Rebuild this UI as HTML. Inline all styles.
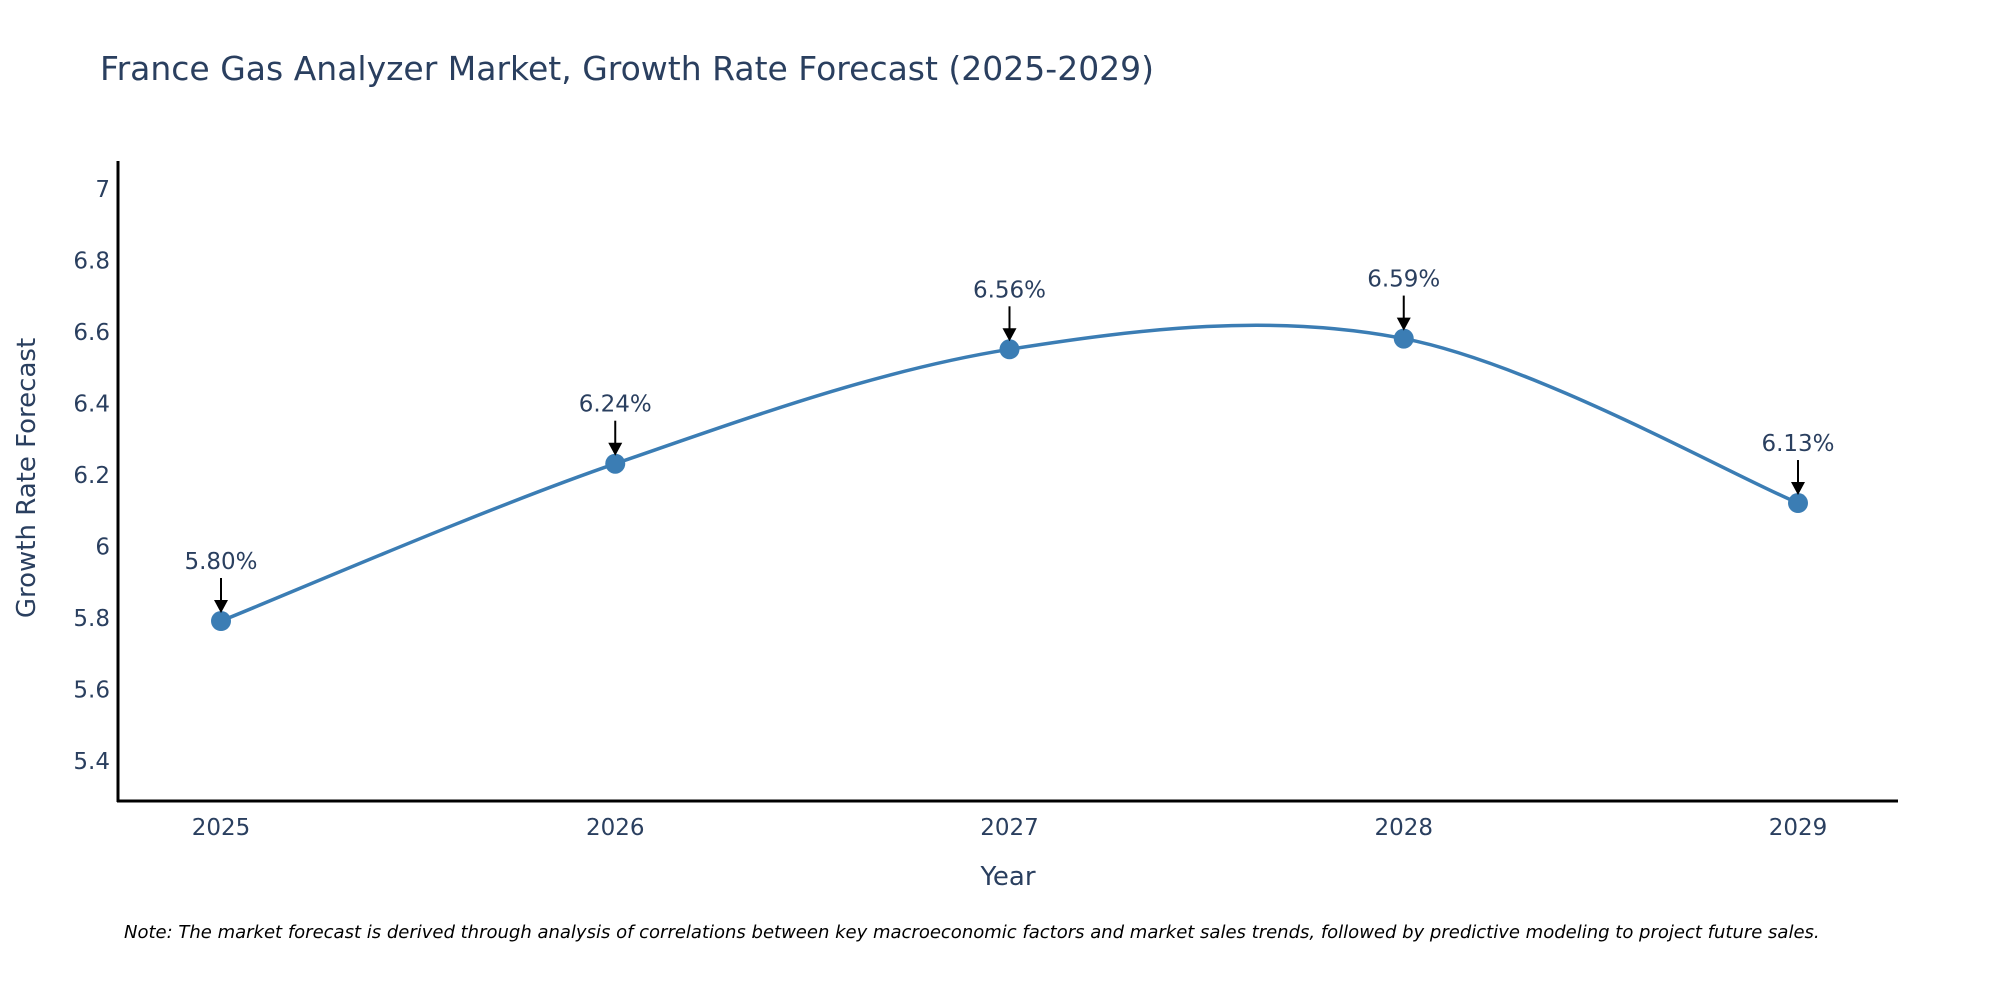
<!DOCTYPE html>
<html><head><meta charset="utf-8"><style>
body{margin:0;background:#fff;}
svg{display:block;font-family:"DejaVu Sans","Liberation Sans",sans-serif;}
</style></head><body>
<svg id="chart" width="2000" height="1000">
<text x="100" y="80" font-size="33" fill="#2a3f5f">France Gas Analyzer Market, Growth Rate Forecast (2025-2029)</text>
<g id="yticks"></g><g id="xticks"></g>
<line x1="118" y1="161" x2="118" y2="802" stroke="#000" stroke-width="3"/>
<line x1="117" y1="801" x2="1898" y2="801" stroke="#000" stroke-width="3"/>
<text x="1008" y="885" font-size="26" fill="#2a3f5f" text-anchor="middle">Year</text>
<text transform="translate(35,478) rotate(-90)" font-size="26" fill="#2a3f5f" text-anchor="middle">Growth Rate Forecast</text>
<g id="series"></g>
<text x="124" y="938" font-size="18" font-style="italic" fill="#000">Note: The market forecast is derived through analysis of correlations between key macroeconomic factors and market sales trends, followed by predictive modeling to project future sales.</text>
</svg>
<script>
const years = [2025, 2026, 2027, 2028, 2029];
const values = [5.80, 6.24, 6.56, 6.59, 6.13];
const labels = ["5.80%", "6.24%", "6.56%", "6.59%", "6.13%"];
const yTicks = [5.4, 5.6, 5.8, 6, 6.2, 6.4, 6.6, 6.8, 7];

const NS = "http://www.w3.org/2000/svg";
const xs = v => 221 + (v - 2025) * (1798 - 221) / 4;
const ys = v => 764 - (v - 5.4) * (764 - 192) / 1.6;
function mk(tag, attrs, parent) {
  const e = document.createElementNS(NS, tag);
  for (const k in attrs) e.setAttribute(k, attrs[k]);
  parent.appendChild(e);
  return e;
}
const yt = document.getElementById('yticks');
yTicks.forEach(t => {
  const e = mk('text', {x: 110, y: ys(t) + 5, 'font-size': 23, fill: '#2a3f5f', 'text-anchor': 'end'}, yt);
  
  
  e.textContent = String(t);
});
const xt = document.getElementById('xticks');
years.forEach(y => {
  const e = mk('text', {x: xs(y), y: 835, 'font-size': 23, fill: '#2a3f5f', 'text-anchor': 'middle'}, xt);
  
  
  e.textContent = String(y);
});
const g = document.getElementById('series');
const pts = years.map((y, i) => [xs(y), ys(values[i])]);
let d = `M${pts[0][0]},${pts[0][1]}`;
for (let i = 0; i < pts.length - 1; i++) {
  const p0 = pts[i - 1] || pts[i], p1 = pts[i], p2 = pts[i + 1], p3 = pts[i + 2] || p2;
  const c1 = [p1[0] + (p2[0] - p0[0]) / 6, p1[1] + (p2[1] - p0[1]) / 6];
  const c2 = [p2[0] - (p3[0] - p1[0]) / 6, p2[1] - (p3[1] - p1[1]) / 6];
  d += ` C${c1[0]},${c1[1]} ${c2[0]},${c2[1]} ${p2[0]},${p2[1]}`;
}
const line = mk('path', {d: d, fill: 'none', stroke: '#3b7db4', 'stroke-width': 3.5}, g);


pts.forEach((p, i) => {
  const c = mk('circle', {cx: p[0], cy: p[1], r: 10, fill: '#3b7db4'}, g);
  
  
  const a = mk('line', {x1: p[0], y1: p[1] - 43, x2: p[0], y2: p[1] - 20, stroke: '#000', 'stroke-width': 2}, g);
  
  
  const h = mk('polygon', {points: `${p[0]-7},${p[1]-21} ${p[0]+7},${p[1]-21} ${p[0]},${p[1]-8}`, fill: '#000'}, g);
  
  
  const t = mk('text', {x: p[0], y: p[1] - 52, 'font-size': 23, fill: '#2a3f5f', 'text-anchor': 'middle'}, g);
  
  
  t.textContent = labels[i];
});
</script>
</body></html>
